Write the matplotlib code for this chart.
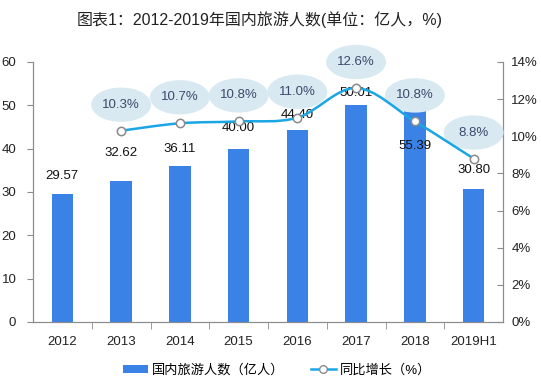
import numpy as np
import matplotlib
matplotlib.use('Agg')
import matplotlib.pyplot as plt
from matplotlib.patches import Ellipse, Patch
from matplotlib.lines import Line2D
from matplotlib.path import Path
from matplotlib.patches import PathPatch

plt.rcParams['font.family'] = ['Liberation Sans', 'Noto Sans CJK SC']
plt.rcParams['axes.unicode_minus'] = False

years = ['2012', '2013', '2014', '2015', '2016', '2017', '2018', '2019H1']
tourists = [29.57, 32.62, 36.11, 40.00, 44.40, 50.01, 55.39, 30.80]
growth_years = ['2013', '2014', '2015', '2016', '2017', '2018', '2019H1']
growth = [10.3, 10.7, 10.8, 11.0, 12.6, 10.8, 8.8]

# where the bar value labels sit (manually placed in the original)
label_y = [33.7, 39.0, 39.9, 44.8, 47.8, 52.8, 40.6, 35.1]

BAR_COLOR = '#3b82e6'
LINE_COLOR = '#1aa6e4'
BUBBLE_COLOR = '#d8e9f1'
AXIS_COLOR = '#8c8c8c'

fig = plt.figure(figsize=(5.41, 3.9), dpi=100)
ax = fig.add_axes([33 / 541, 1 - 322 / 390, 470 / 541, 260 / 390])
ax2 = ax.twinx()

x = np.arange(len(years))
ax.bar(x, tourists, width=0.37, color=BAR_COLOR, zorder=2)

for xi, v, ly in zip(x, tourists, label_y):
    ax.text(xi, ly, f'{v:.2f}', ha='center', va='center', fontsize=9.5, color='#111111', zorder=3)

ax.set_xlim(-0.5, len(years) - 0.5)
ax.set_ylim(0, 60)
ax.set_yticks(range(0, 61, 10))
ax.set_xticks(x)
ax.set_xticklabels(years)
ax.set_xticks(np.arange(0.5, len(years) - 1, 1), minor=True)
ax.tick_params(axis='x', which='major', length=0, pad=10, labelsize=9.5, labelcolor='#222222')
ax.tick_params(axis='x', which='minor', length=5, color=AXIS_COLOR, direction='out')
ax.tick_params(axis='y', length=4, color=AXIS_COLOR, labelsize=9.5, labelcolor='#222222', pad=8)

for a in (ax, ax2):
    a.spines['top'].set_visible(False)
    for s in ('left', 'right', 'bottom'):
        a.spines[s].set_color(AXIS_COLOR)

ax2.set_ylim(0, 14)
ax2.set_yticks(range(0, 15, 2))
ax2.set_yticklabels([f'{t}%' for t in range(0, 15, 2)])
ax2.tick_params(axis='y', length=4, direction='in', color=AXIS_COLOR, labelsize=9.5,
                labelcolor='#222222', pad=6)

gx = np.array([years.index(y) for y in growth_years], dtype=float)
gy = np.array(growth, dtype=float)

# smoothed line (cubic bezier between the data points)
verts = [(gx[0], gy[0])]
codes = [Path.MOVETO]
n = len(gx)
for i in range(n - 1):
    p0 = np.array([gx[max(i - 1, 0)], gy[max(i - 1, 0)]])
    p1 = np.array([gx[i], gy[i]])
    p2 = np.array([gx[i + 1], gy[i + 1]])
    p3 = np.array([gx[min(i + 2, n - 1)], gy[min(i + 2, n - 1)]])
    c1 = p1 + (p2 - p0) / 6
    c2 = p2 - (p3 - p1) / 6
    verts += [tuple(c1), tuple(c2), tuple(p2)]
    codes += [Path.CURVE4] * 3
ax2.add_patch(PathPatch(Path(verts, codes), facecolor='none', edgecolor=LINE_COLOR,
                        lw=1.8, zorder=4))
ax2.plot(gx, gy, linestyle='none', marker='o', markersize=6, markerfacecolor='white',
         markeredgecolor='#8a8a8a', markeredgewidth=1.1, zorder=5)

for xi, v in zip(gx, gy):
    ax2.add_patch(Ellipse((xi, v + 1.4), 1.02, 1.85, facecolor=BUBBLE_COLOR,
                          edgecolor='none', zorder=3, clip_on=False))
    ax2.text(xi, v + 1.4, f'{v:.1f}%', ha='center', va='center', fontsize=9.5,
             color='#3b4a6b', zorder=6)

fig.suptitle('图表1：2012-2019年国内旅游人数(单位：亿人，%)', x=260 / 541, y=1 - 20 / 390,
             va='center', fontsize=11.5, color='#222222')

handles = [
    Patch(facecolor=BAR_COLOR, edgecolor='none'),
    Line2D([0], [0], color=LINE_COLOR, lw=1.8, marker='o', markersize=5.5,
           markerfacecolor='white', markeredgecolor='#8a8a8a'),
]
fig.legend(handles, ['国内旅游人数（亿人）', '同比增长（%）'], loc='center',
           bbox_to_anchor=(277 / 541, 1 - 370 / 390), ncol=2, frameon=False, fontsize=9.5,
           handlelength=1.9, handleheight=0.55, columnspacing=2.0, handletextpad=0.3)

fig.savefig('out.png', dpi=100)
